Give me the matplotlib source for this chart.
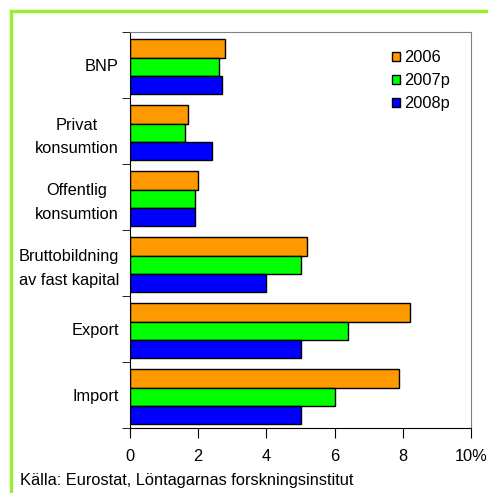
import matplotlib.pyplot as plt
import numpy as np
from matplotlib.patches import Rectangle

plt.rcParams['font.family'] = ['Liberation Sans', 'DejaVu Sans']

categories = ['BNP', 'Privat\nkonsumtion', 'Offentlig\nkonsumtion',
              'Bruttobildning\nav fast kapital', 'Export', 'Import']
series = ['2006', '2007p', '2008p']
v2006 = [2.8, 1.7, 2.0, 5.2, 8.2, 7.9]
v2007 = [2.6, 1.6, 1.9, 5.0, 6.4, 6.0]
v2008 = [2.7, 2.4, 1.9, 4.0, 5.0, 5.0]
colors = ['#ff9900', '#00ff00', '#0000ff']
xticks = [0, 2, 4, 6, 8, 10]
xticklabels = ['0', '2', '4', '6', '8', '10%']

fs = 11.8
fig = plt.figure(figsize=(4.88, 4.93), dpi=100)
ax = fig.add_axes([130 / 488, 1 - 428 / 493, 341 / 488, 396 / 493])

# light green frame around the whole chart
fig.patches.append(Rectangle((11 / 488, -0.1), 1.2, 1 - 11 / 493 + 0.1,
                             transform=fig.transFigure, fill=False,
                             edgecolor='#99ee33', linewidth=2.5))

y = np.arange(len(categories))
h = 0.275
for i, (vals, c, lab) in enumerate(zip([v2006, v2007, v2008], colors, series)):
    ax.barh(y + (i - 1) * h + 0.025, vals, height=h, color=c, edgecolor='black',
            linewidth=1.0, label=lab)

ax.set_ylim(len(categories) - 0.5, -0.5)
ax.set_xlim(0, 10)
ax.set_yticks(y)
ax.set_yticklabels(categories, multialignment='center', fontsize=fs, linespacing=1.7)
ax.tick_params(axis='y', length=0, pad=8)
ax.set_yticks(np.arange(-0.5, len(categories)), minor=True)
ax.tick_params(axis='y', which='minor', length=6, direction='out')
ax.set_xticks(xticks)
ax.set_xticklabels(xticklabels, fontsize=fs)
ax.tick_params(axis='x', length=7, direction='out', pad=8)

for s in ['top', 'right']:
    ax.spines[s].set_color('#808080')
    ax.spines[s].set_linewidth(0.8)

leg = fig.legend(*ax.get_legend_handles_labels(), loc='upper left',
                 bbox_to_anchor=(392 / 488, 1 - 50 / 493), frameon=False,
                 fontsize=fs, handlelength=0.5, handleheight=0.5,
                 handletextpad=0.25, labelspacing=0.5, borderpad=0,
                 borderaxespad=0)

fig.text(20 / 488, 1 - 481 / 493, 'Källa: Eurostat, Löntagarnas forskningsinstitut',
         fontsize=fs, va='center', ha='left')

fig.savefig('out.png', dpi=100)
